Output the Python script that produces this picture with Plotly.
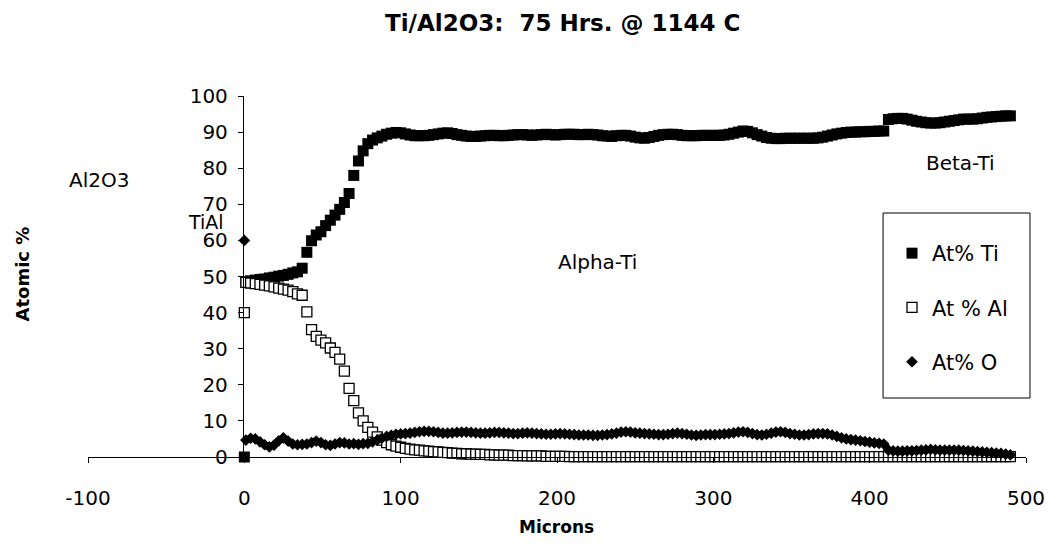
import plotly.graph_objects as go

# ---------------- data ----------------
# distance in microns: first point is the Al2O3 reading at 0, then a 3-micron step traverse
microns = [0] + list(range(1, 491, 3))

at_ti = [0,
    48.5, 48.8, 49.0, 49.2, 49.3, 49.6, 49.8, 50.1, 50.3, 50.6,
    51.0, 51.3, 52.3, 56.7, 59.9, 61.5, 62.4, 64.1, 65.6, 67.0,
    68.6, 70.5, 73.0, 78.0, 82.0, 84.8, 86.8, 87.8, 88.4, 88.9,
    89.4, 89.7, 89.9, 89.8, 89.5, 89.2, 89.0, 89.0, 89.0, 89.1,
    89.3, 89.5, 89.7, 89.8, 89.6, 89.3, 89.1, 88.9, 88.8, 88.8,
    88.9, 89.0, 89.1, 89.1, 89.0, 89.0, 89.1, 89.2, 89.3, 89.3,
    89.2, 89.1, 89.2, 89.3, 89.4, 89.3, 89.2, 89.3, 89.4, 89.4,
    89.4, 89.3, 89.3, 89.4, 89.3, 89.2, 89.0, 88.9, 88.8, 89.0,
    89.1, 89.1, 88.9, 88.6, 88.4, 88.3, 88.5, 88.8, 89.1, 89.3,
    89.4, 89.4, 89.3, 89.1, 89.0, 89.0, 89.0, 89.1, 89.1, 89.1,
    89.1, 89.1, 89.2, 89.4, 89.7, 90.0, 90.3, 90.2, 89.8, 89.3,
    88.9, 88.5, 88.3, 88.2, 88.2, 88.3, 88.3, 88.3, 88.3, 88.3,
    88.3, 88.3, 88.4, 88.6, 88.9, 89.2, 89.5, 89.7, 89.9, 90.0,
    90.0, 90.1, 90.1, 90.2, 90.2, 90.3, 90.3, 93.5, 93.7, 93.8,
    93.8, 93.6, 93.3, 93.0, 92.8, 92.6, 92.5, 92.5, 92.6, 92.8,
    93.0, 93.2, 93.4, 93.6, 93.6, 93.6, 93.7, 93.9, 94.1, 94.2,
    94.3, 94.4, 94.5, 94.5]

at_al = [40,
    48.4, 48.2, 48.0, 47.8, 47.6, 47.4, 47.1, 46.8, 46.5, 46.2,
    45.8, 45.2, 44.8, 40.2, 35.3, 33.4, 32.4, 31.6, 30.2, 29.0,
    27.1, 23.8, 19.0, 15.6, 12.2, 10.0, 8.2, 6.9, 5.6, 4.7,
    4.0, 3.4, 3.0, 2.7, 2.4, 2.2, 2.0, 1.9, 1.7, 1.6,
    1.5, 1.4, 1.3, 1.2, 1.1, 1.0, 0.9, 0.9, 0.8, 0.8,
    0.7, 0.7, 0.6, 0.6, 0.5, 0.5, 0.5, 0.4, 0.4, 0.4,
    0.3, 0.3, 0.3, 0.3, 0.2, 0.2, 0.2, 0.2, 0.2, 0.1,
    0.1, 0.1, 0.1, 0.1, 0.1, 0.1, 0.1, 0.1, 0.1, 0.1,
    0.1, 0.1, 0.1, 0.1, 0.1, 0.1, 0.1, 0.1, 0.1, 0.1,
    0.1, 0.1, 0.1, 0.1, 0.1, 0.1, 0.1, 0.1, 0.1, 0.1,
    0.1, 0.1, 0.1, 0.1, 0.1, 0.1, 0.1, 0.1, 0.1, 0.1,
    0.1, 0.1, 0.1, 0.1, 0.1, 0.1, 0.1, 0.1, 0.1, 0.1,
    0.1, 0.1, 0.1, 0.1, 0.1, 0.1, 0.1, 0.1, 0.1, 0.1,
    0.1, 0.1, 0.1, 0.1, 0.1, 0.1, 0.1, 0.1, 0.1, 0.1,
    0.1, 0.1, 0.1, 0.1, 0.1, 0.1, 0.1, 0.1, 0.1, 0.1,
    0.1, 0.1, 0.1, 0.1, 0.1, 0.1, 0.1, 0.1, 0.1, 0.1,
    0.1, 0.1, 0.1, 0.1]

at_o = [60,
    4.7, 5.2, 5.0, 4.2, 3.4, 2.8, 3.3, 4.5, 5.3, 4.4,
    3.6, 3.4, 3.5, 3.6, 4.0, 4.4, 4.0, 3.4, 3.2, 3.6,
    4.0, 3.9, 3.6, 3.7, 3.5, 3.7, 3.8, 4.2, 4.7, 5.2,
    5.7, 6.0, 6.3, 6.4, 6.5, 6.6, 6.8, 7.0, 7.1, 7.1,
    7.0, 6.8, 6.6, 6.6, 6.7, 6.8, 6.9, 6.9, 6.8, 6.7,
    6.6, 6.6, 6.7, 6.8, 6.8, 6.7, 6.6, 6.5, 6.5, 6.6,
    6.7, 6.6, 6.5, 6.4, 6.3, 6.3, 6.4, 6.5, 6.4, 6.3,
    6.2, 6.1, 6.1, 6.1, 6.0, 6.0, 6.1, 6.2, 6.4, 6.6,
    6.9, 7.0, 6.9, 6.7, 6.6, 6.5, 6.4, 6.3, 6.2, 6.2,
    6.3, 6.5, 6.6, 6.5, 6.3, 6.1, 6.0, 6.1, 6.2, 6.2,
    6.2, 6.3, 6.4, 6.5, 6.7, 6.9, 7.0, 6.8, 6.5, 6.2,
    6.1, 6.3, 6.6, 6.9, 7.0, 6.8, 6.5, 6.3, 6.1, 6.1,
    6.2, 6.4, 6.5, 6.5, 6.4, 6.1, 5.7, 5.3, 5.0, 4.8,
    4.7, 4.5, 4.3, 4.1, 3.9, 3.8, 3.6, 1.9, 1.7, 1.6,
    1.6, 1.7, 1.7, 1.8, 1.9, 2.0, 2.1, 2.0, 1.9, 1.9,
    1.9, 1.9, 1.9, 1.8, 1.7, 1.6, 1.5, 1.4, 1.3, 1.2,
    1.1, 1.0, 0.8, 0.6]

series_names = ["At% Ti", "At % Al", "At% O"]
x_ticks = [-100, 0, 100, 200, 300, 400, 500]
x_tick_text = ["-100", "0", "100", "200", "300", "400", "500"]
y_ticks = [0, 10, 20, 30, 40, 50, 60, 70, 80, 90, 100]

title_text = "Ti/Al2O3:  75 Hrs. @ 1144 C"
region_labels = ["Al2O3", "TiAl", "Alpha-Ti", "Beta-Ti"]

# ---------------- figure ----------------
FONT = "DejaVu Sans, Verdana, sans-serif"
W, H = 1057, 552
ML, MR, MT, MB = 88, 24, 96, 95
PW, PH = W - ML - MR, H - MT - MB


def px_x(p):  # pixel -> paper x
    return (p - ML) / PW


def px_y(p):  # pixel -> paper y
    return (H - MB - p) / PH


fig = go.Figure()
fig.add_trace(go.Scatter(
    x=microns, y=at_ti, mode="markers", name=series_names[0], legendgroup="ti",
    marker=dict(symbol="square", size=11, color="black", line=dict(width=0)),
    cliponaxis=False))
fig.add_trace(go.Scatter(
    x=microns, y=at_al, mode="markers", name=series_names[1], legendgroup="al",
    marker=dict(symbol="square", size=10, color="white", line=dict(width=1.3, color="black")),
    cliponaxis=False))
fig.add_trace(go.Scatter(
    x=microns, y=at_o, mode="markers", name=series_names[2], legendgroup="o",
    marker=dict(symbol="diamond", size=9, color="black", line=dict(width=0)),
    cliponaxis=False))

annotations = [
    dict(text=title_text, xref="paper", yref="paper", x=px_x(566), y=px_y(23),
         xanchor="center", yanchor="middle", showarrow=False,
         font=dict(family=FONT, size=23, color="black", weight="bold")),
    dict(text="Microns", xref="paper", yref="paper", x=px_x(560), y=px_y(527),
         xanchor="center", yanchor="middle", showarrow=False,
         font=dict(family=FONT, size=17, color="black", weight="bold")),
    dict(text="Atomic %", xref="paper", yref="paper", x=px_x(22), y=px_y(274),
         xanchor="center", yanchor="middle", showarrow=False, textangle=-90,
         font=dict(family=FONT, size=18, color="black", weight="bold")),
    dict(text=region_labels[0], xref="paper", yref="paper", x=px_x(67), y=px_y(180),
         xanchor="left", yanchor="middle", showarrow=False,
         font=dict(family=FONT, size=20, color="black")),
    dict(text=region_labels[1], xref="paper", yref="paper", x=px_x(227), y=px_y(222),
         xanchor="right", yanchor="middle", showarrow=False,
         font=dict(family=FONT, size=19, color="black")),
    dict(text=region_labels[2], xref="paper", yref="paper", x=px_x(601), y=px_y(262),
         xanchor="center", yanchor="middle", showarrow=False,
         font=dict(family=FONT, size=20, color="black")),
    dict(text=region_labels[3], xref="paper", yref="paper", x=px_x(930), y=px_y(163),
         xanchor="left", yanchor="middle", showarrow=False,
         font=dict(family=FONT, size=20, color="black")),
]

shapes = [
    dict(type="rect", xref="paper", yref="paper",
         x0=px_x(889), x1=px_x(1037), y0=px_y(398), y1=px_y(213),
         line=dict(color="black", width=1), fillcolor="rgba(0,0,0,0)", layer="above"),
]

fig.update_layout(
    width=W, height=H,
    margin=dict(l=ML, r=MR, t=MT, b=MB),
    paper_bgcolor="white", plot_bgcolor="white",
    font=dict(family=FONT, size=20, color="black"),
    showlegend=True,
    legend=dict(x=px_x(898), y=px_y(233), xanchor="left", yanchor="top",
                bgcolor="rgba(0,0,0,0)", borderwidth=0, tracegroupgap=24,
                font=dict(family=FONT, size=21, color="black"),
                itemclick=False, itemdoubleclick=False),
    annotations=annotations,
    shapes=shapes,
    xaxis=dict(range=[-100, 500], tickvals=x_ticks, ticktext=x_tick_text,
               showgrid=False, zeroline=False,
               showline=True, linecolor="black", linewidth=1,
               ticks="outside", ticklen=5, tickcolor="black",
               ticklabelstandoff=18,
               tickfont=dict(family=FONT, size=20, color="black")),
    yaxis=dict(range=[0, 100], tickvals=y_ticks, showgrid=False, zeroline=False,
               anchor="free", position=px_x(244),
               showline=True, linecolor="black", linewidth=1,
               ticks="outside", ticklen=5, tickcolor="black",
               ticklabelstandoff=6,
               tickfont=dict(family=FONT, size=20, color="black")),
)

fig.write_html("out.html")
